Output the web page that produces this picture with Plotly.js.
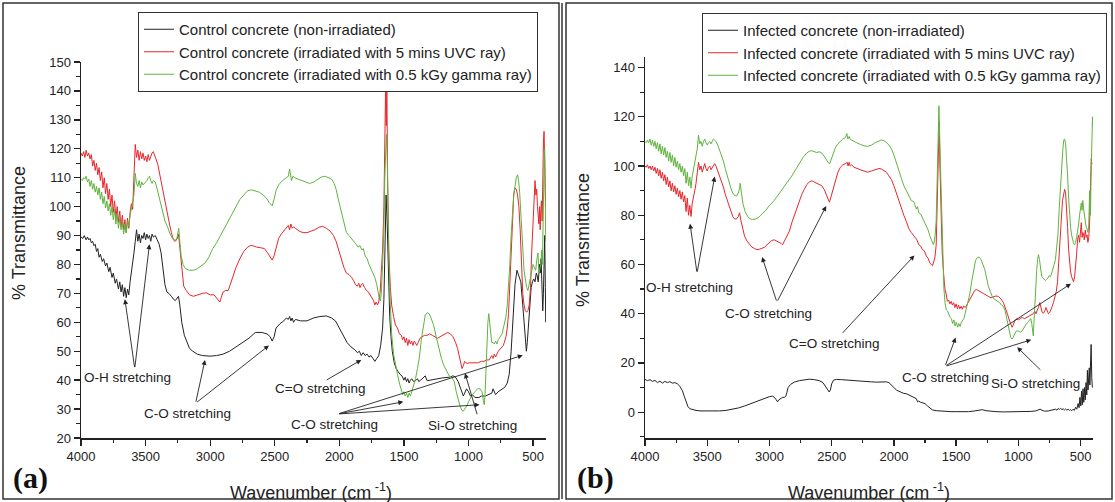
<!DOCTYPE html>
<html>
<head>
<meta charset="utf-8">
<script src="https://cdn.plot.ly/plotly-3.0.1.min.js"></script>
<style>html,body{margin:0;padding:0;background:#fff;}#chart{width:1115px;height:502px;}</style>
</head>
<body>
<div id="chart"></div>
<script>
// ---------- DATA (wavenumber cm-1, % transmittance) ----------
const controlNonIrr = [[4000,89.5],[3985,89],[3975,90],[3960,88.5],[3950,89.5],[3940,88.5],[3930,89],[3920,87.5],[3910,88],[3900,86.5],[3890,87],[3880,84.5],[3870,85.5],[3860,82.5],[3850,83.5],[3835,81],[3825,82],[3810,79.5],[3800,80.5],[3785,77.5],[3775,79],[3760,75.5],[3750,77],[3735,73.5],[3725,75],[3710,71.5],[3700,74],[3690,70.5],[3680,73],[3670,69],[3660,72],[3650,68.5],[3640,71.5],[3630,69.5],[3620,74],[3610,77],[3600,80],[3590,84],[3580,88],[3570,92],[3560,88],[3550,90.5],[3540,87.5],[3530,90],[3520,89],[3510,91],[3500,88.5],[3490,90.5],[3480,89],[3470,90],[3460,88],[3450,90.5],[3440,89.5],[3425,90],[3410,88.5],[3395,87],[3380,84],[3365,79],[3350,73],[3335,70.5],[3320,70],[3300,69],[3285,68],[3270,67.5],[3255,68.5],[3245,69],[3235,66],[3220,60],[3200,55.5],[3180,53],[3160,51],[3135,50],[3100,49],[3060,48.5],[3000,48.3],[2950,48.5],[2900,49],[2850,50],[2800,51.5],[2750,53],[2700,54.5],[2650,56.5],[2600,56.5],[2560,56],[2535,55],[2520,53.5],[2505,55],[2490,58],[2460,59.5],[2430,60.5],[2410,61.5],[2395,61],[2385,62],[2375,60.5],[2365,61.5],[2355,60],[2340,61],[2300,60.5],[2250,60.5],[2200,61.5],[2150,62],[2100,62.2],[2060,61.5],[2030,60.5],[2000,58],[1970,55],[1940,53],[1910,51.5],[1880,50.5],[1860,49.5],[1845,50],[1830,48.5],[1815,49.5],[1800,48.5],[1785,49],[1770,48],[1755,48.5],[1740,47.5],[1725,46.5],[1710,47.5],[1695,48.5],[1680,52],[1665,58],[1655,68],[1645,90],[1638,104],[1630,95],[1620,75],[1610,62],[1600,55],[1590,50],[1575,46],[1560,44],[1545,43],[1530,42],[1515,41.5],[1500,40],[1490,41],[1480,39.5],[1470,40.5],[1460,39],[1450,40],[1440,40.5],[1425,39.5],[1410,39.8],[1395,40.5],[1385,39.5],[1370,40],[1350,41],[1335,41.5],[1320,39.8],[1300,40],[1250,40.5],[1200,40.8],[1150,41],[1120,41.5],[1100,41],[1080,39.5],[1060,37],[1040,34.5],[1030,35.5],[1015,37],[1000,36],[985,34.5],[970,35],[950,34],[920,34],[900,34.5],[870,34.5],[840,35],[820,35.5],[810,37],[800,36],[790,35],[770,36],[740,37],[720,37.5],[700,39],[685,42],[670,50],[655,62],[640,73],[625,78],[610,76],[595,74],[580,66],[570,60],[560,53],[552,50],[545,53],[535,60],[525,68],[515,72],[505,74],[495,75],[485,74],[475,77],[468,76],[460,74],[450,80],[445,77],[438,82],[432,70],[425,64],[420,70],[415,80],[410,90],[405,72],[402,60]];

const controlUVC = [[4000,118.5],[3990,117.5],[3980,119],[3970,117],[3960,119.5],[3950,117.5],[3940,118.5],[3930,116.5],[3920,118],[3910,114],[3900,116],[3890,112.5],[3880,115],[3870,111],[3860,113.5],[3850,109],[3840,112],[3830,106.5],[3820,110],[3810,104.5],[3800,108],[3790,102.5],[3780,106],[3770,100],[3760,104],[3750,98],[3740,102],[3730,96],[3720,100],[3710,94.5],[3700,98.5],[3690,93],[3680,97],[3670,92],[3660,95.5],[3650,91],[3640,96],[3630,92.5],[3620,98],[3610,101],[3600,99],[3590,108],[3580,121.5],[3570,117],[3560,119.5],[3550,116],[3540,119],[3530,116.5],[3520,118.5],[3510,116],[3500,117.5],[3490,115.5],[3480,118],[3470,116],[3460,117.5],[3450,118.5],[3440,119],[3430,118],[3420,116.5],[3405,114.5],[3390,111],[3375,107],[3360,104],[3345,100],[3330,97],[3315,94],[3300,91],[3285,88.5],[3270,88],[3255,89],[3245,90.5],[3235,86],[3220,77],[3205,72.5],[3185,71],[3160,69.5],[3130,69],[3100,69.5],[3060,70],[3030,70.2],[3000,69.5],[2970,69.5],[2950,68.5],[2935,67.5],[2925,67],[2915,68.5],[2900,70.5],[2880,71],[2860,71],[2845,73],[2825,76],[2800,79],[2770,82],[2740,84.5],[2710,86],[2690,86.5],[2670,86.5],[2640,86],[2610,85.8],[2580,85.5],[2555,84],[2535,82.5],[2520,81.5],[2505,83],[2490,86],[2470,89],[2450,90.5],[2430,91.5],[2410,92.5],[2395,93.5],[2385,92],[2375,94],[2365,92.5],[2355,93],[2340,92.5],[2310,91.5],[2280,91],[2250,91],[2220,91.5],[2190,92],[2160,92.8],[2130,93.2],[2100,92.5],[2070,91.5],[2045,90],[2025,88],[2005,85],[1985,82],[1965,79],[1945,77],[1925,76.5],[1905,75.5],[1890,74.5],[1875,73],[1860,72.5],[1850,73.5],[1840,72],[1830,73],[1820,73.5],[1805,72],[1790,71],[1775,70.5],[1760,69.5],[1745,68.5],[1735,67.5],[1725,66],[1715,67],[1705,66],[1695,67],[1685,70],[1675,76],[1665,85],[1655,100],[1648,125],[1642,141],[1637,128],[1632,140],[1626,110],[1618,85],[1605,72],[1595,66],[1580,62],[1565,59],[1550,58],[1535,56],[1520,55.5],[1510,54],[1500,55],[1490,53],[1480,54.5],[1470,52],[1460,54],[1450,52.5],[1440,53.5],[1430,52],[1420,53.5],[1410,52.5],[1400,52],[1390,53],[1375,54.5],[1360,55],[1340,55.5],[1320,55.5],[1300,56],[1280,55.5],[1260,55],[1240,54.5],[1220,55],[1200,55.5],[1180,56],[1160,56.5],[1140,56],[1120,55],[1100,53],[1085,51],[1070,48],[1060,45.5],[1050,44],[1040,45],[1030,46.5],[1020,46],[1010,45.8],[990,46],[960,46],[930,46],[900,46.5],[880,46.5],[860,47],[840,47],[820,48.5],[810,47.5],[800,49],[790,48],[770,50],[750,51],[730,52],[710,55],[700,58],[690,63],[680,72],[670,82],[660,95],[650,104],[640,106.5],[630,106],[620,104],[610,100],[600,92],[590,80],[580,70],[570,66],[560,64],[550,63.5],[540,64],[530,66],[520,72],[510,85],[500,95],[490,103],[485,109],[478,104],[472,106],[466,100],[460,97.5],[455,94],[450,100],[445,92],[440,99],[435,102],[430,95],[425,112],[420,122],[415,126],[412,115],[408,120],[405,105],[402,100]];

const controlGamma = [[4000,109.5],[3990,109],[3980,110],[3970,109.5],[3960,110.5],[3950,108.5],[3940,109.5],[3930,107],[3920,109],[3910,106],[3900,108],[3890,105],[3880,107],[3870,104],[3860,106.5],[3850,102.5],[3840,105],[3830,101],[3820,103.5],[3810,99.5],[3800,102],[3790,98.5],[3780,101],[3770,97],[3760,100],[3750,95.5],[3740,99],[3730,94],[3720,97.5],[3710,92.5],[3700,96],[3690,92],[3680,94.5],[3670,90.5],[3660,94],[3650,91],[3640,95],[3630,93],[3620,97],[3610,99],[3600,101],[3590,104],[3580,111.5],[3570,108],[3560,107],[3550,109],[3540,106.5],[3530,108.5],[3520,107.5],[3510,108],[3500,108.5],[3490,109],[3480,110],[3470,110.5],[3460,109],[3450,108],[3440,109],[3425,108.5],[3410,106],[3395,103],[3380,100],[3365,97.5],[3350,95],[3330,93],[3310,90.5],[3290,89],[3275,88.5],[3260,88.5],[3250,91],[3243,92.5],[3235,88],[3225,83],[3210,80],[3190,78.5],[3160,78],[3130,78],[3100,78.5],[3070,79.5],[3040,80.5],[3010,82.5],[2980,85.5],[2950,87.5],[2920,90],[2890,93],[2860,95.5],[2830,98],[2800,100.5],[2770,102.5],[2740,104],[2710,105.5],[2680,105.8],[2650,105.5],[2620,105],[2590,104],[2565,103],[2545,101.5],[2530,100.5],[2520,100.3],[2505,102.5],[2490,105.5],[2470,107.5],[2440,109],[2410,110],[2395,110.5],[2385,113],[2378,111.5],[2370,109],[2360,110.5],[2345,110],[2320,109.5],[2290,109],[2260,108.5],[2230,108],[2200,108.5],[2170,109.5],[2140,110.2],[2110,110.5],[2080,110],[2060,109.5],[2040,108],[2025,106],[2005,102],[1985,98],[1965,94],[1945,91],[1925,90],[1905,89],[1885,88],[1870,87],[1855,86],[1840,86.5],[1825,85],[1815,85.5],[1800,83],[1785,82],[1770,80],[1755,78.5],[1740,77],[1725,75.5],[1710,73],[1700,70.5],[1690,68],[1682,67.5],[1675,70],[1665,80],[1655,92],[1648,110],[1642,119],[1636,125],[1630,118],[1625,100],[1615,80],[1605,66],[1595,56],[1580,49],[1565,45],[1550,42],[1535,39],[1520,36.5],[1510,35],[1500,36],[1490,34.5],[1480,35.5],[1470,34],[1460,35.5],[1450,34.5],[1440,36],[1425,38],[1410,40.5],[1395,44],[1380,48],[1365,54],[1350,59],[1335,62.5],[1320,63.3],[1305,63],[1290,61.5],[1270,59],[1250,55],[1230,51],[1210,47.5],[1190,45],[1170,43],[1150,41.5],[1130,41],[1110,39.5],[1095,36],[1080,33],[1065,31],[1050,29.5],[1040,29.3],[1030,30],[1015,31],[1000,32.5],[985,34],[970,35],[950,36],[930,37],[910,37],[895,36],[885,33],[878,31.5],[872,35],[865,44],[858,54],[850,60],[843,63],[836,60],[828,55],[820,53],[810,53],[800,52.5],[790,53.5],[780,52.5],[770,54],[755,55],[740,56],[725,59],[710,62],[700,66],[690,72],[680,80],[670,90],[660,98],[650,104],[640,107],[630,110],[620,111],[612,109],[604,105],[596,98],[588,90],[580,82],[570,78],[560,75],[550,72],[540,71],[530,73],[520,75],[510,78],[500,80],[490,79],[480,78],[470,82],[462,84],[455,77],[448,79],[440,80],[433,85],[428,80],[422,95],[418,112],[414,118],[410,120],[406,110],[402,88]];

const infectedNonIrr = [[4000,13.3],[3980,12.8],[3960,13.2],[3940,12.5],[3920,12.9],[3900,12],[3880,12.6],[3860,11.8],[3840,12.5],[3820,12],[3800,12.4],[3780,11.8],[3760,12],[3740,11.5],[3720,10.5],[3700,8.8],[3685,6.5],[3670,4],[3655,2.3],[3640,1.4],[3620,1],[3590,0.7],[3550,0.5],[3500,0.4],[3450,0.4],[3400,0.5],[3350,0.7],[3300,1.1],[3250,1.7],[3200,2.5],[3150,3.5],[3100,4.5],[3050,5.5],[3000,6.3],[2975,6.5],[2960,6],[2945,5],[2935,4.2],[2925,5],[2910,5.5],[2895,6],[2880,6],[2868,6.5],[2860,8],[2850,10],[2830,11.3],[2800,12.2],[2760,12.8],[2720,13.2],[2680,13.4],[2640,13.2],[2600,12.8],[2570,12],[2550,10.5],[2535,9],[2520,8.2],[2510,9],[2500,11.5],[2485,13],[2460,13.3],[2420,13.2],[2380,13],[2340,12.8],[2300,12.7],[2260,12.5],[2220,12.4],[2180,12.3],[2140,12.2],[2100,12.3],[2060,12.3],[2040,12],[2020,11],[2000,10],[1980,9],[1960,8.5],[1940,8],[1920,7.6],[1900,7.5],[1880,7],[1860,6.5],[1840,6],[1820,5.5],[1810,4.2],[1800,4.5],[1785,4],[1770,3.8],[1750,3.5],[1730,2.5],[1710,1.5],[1690,0.9],[1660,0.6],[1620,0.4],[1580,0.3],[1540,0.2],[1500,0.2],[1450,0.1],[1400,0.2],[1350,0.5],[1320,0.9],[1290,1],[1260,0.6],[1220,0.3],[1180,0.2],[1120,0.1],[1060,0.1],[1000,0.1],[950,0.2],[900,0.3],[860,0.5],[840,0.9],[825,1.2],[810,0.8],[790,0.4],[760,0.5],[740,0.7],[720,0.9],[700,1.2],[690,0.8],[680,1.5],[670,1.1],[660,1.6],[650,1.0],[640,1.4],[630,0.9],[620,1.3],[610,0.8],[600,1.2],[590,0.7],[580,1.0],[570,0.6],[560,1.2],[550,0.7],[540,2],[530,1.2],[520,3.5],[512,1.8],[505,6],[498,2.5],[492,8.5],[486,3],[480,9.5],[474,4],[468,10],[462,5],[456,12],[450,7],[445,17],[440,9],[435,14],[430,18],[425,11],[420,20],[415,27.5],[410,14],[405,10]];

const infectedUVC = [[4000,100],[3990,99.5],[3980,100.5],[3970,99],[3960,100],[3950,98.5],[3940,100],[3930,98],[3920,99.5],[3910,97],[3900,99],[3890,96],[3880,98.5],[3870,95],[3860,97.5],[3850,94],[3840,96.5],[3830,92.5],[3820,95.5],[3810,91.5],[3800,94],[3790,90],[3780,93],[3770,89.5],[3760,92],[3750,88.5],[3740,91],[3730,87.5],[3720,90],[3710,86.5],[3700,89.5],[3690,85.5],[3680,88],[3670,81.5],[3660,87],[3650,80],[3640,84],[3630,79.5],[3620,85],[3610,87],[3600,90],[3590,93],[3580,97],[3570,101.5],[3560,98.5],[3550,100],[3540,97.5],[3530,99.5],[3520,101],[3510,99],[3500,98],[3490,99.5],[3480,100],[3470,98.5],[3460,99.5],[3450,100.5],[3440,101],[3430,100],[3415,98],[3400,96],[3385,94],[3370,91.5],[3355,88.5],[3340,86],[3325,83.5],[3310,81],[3295,79.5],[3280,78.5],[3265,78.5],[3250,79.5],[3240,81],[3230,78],[3215,74],[3200,71.5],[3180,69.5],[3160,68],[3140,67],[3120,66.5],[3100,66],[3080,66.2],[3060,66.5],[3040,67],[3020,68],[3000,69],[2980,69.8],[2960,70],[2940,69.5],[2920,69],[2905,68.5],[2895,68],[2885,69],[2870,71],[2855,72],[2840,73.5],[2820,77],[2800,80],[2780,83],[2760,86],[2740,88.5],[2720,90.5],[2700,92.5],[2680,93.5],[2660,94],[2640,93.5],[2620,93],[2600,92.8],[2580,92],[2560,90.5],[2545,88.5],[2530,86.5],[2518,85.3],[2505,87.5],[2490,90.5],[2470,94.5],[2450,97.5],[2430,99.5],[2410,100.5],[2390,101],[2375,101.5],[2368,100],[2360,101.5],[2350,100],[2340,100.5],[2320,99.5],[2300,99],[2270,98.5],[2240,98],[2210,97.5],[2180,98],[2150,98.5],[2120,99],[2100,98.8],[2080,98],[2060,97.5],[2040,96],[2020,94.5],[2000,92],[1980,89],[1960,86],[1940,82.5],[1920,80],[1900,77.5],[1880,74.5],[1860,73],[1845,72],[1830,71.5],[1815,70],[1800,68],[1785,67.5],[1770,66],[1755,65.5],[1740,63.5],[1725,62.5],[1710,60.5],[1700,60],[1690,59.5],[1680,61],[1670,63],[1660,68],[1650,85],[1642,108],[1636,118],[1630,100],[1622,80],[1612,65],[1600,56],[1590,50],[1580,48],[1570,45],[1560,45.5],[1550,44],[1540,45],[1530,43.5],[1520,44.5],[1510,42.5],[1500,44],[1490,42],[1480,43.5],[1470,42],[1460,43],[1450,41.8],[1440,43.2],[1430,42.5],[1420,43],[1410,44],[1395,45.5],[1380,47],[1365,48.5],[1350,49.5],[1335,49.8],[1320,49.5],[1300,48.8],[1280,48.2],[1260,47.5],[1240,47],[1220,46.5],[1200,46.8],[1180,47.2],[1160,47],[1140,46],[1120,44.5],[1100,42],[1085,39.5],[1070,37],[1058,35],[1050,34.5],[1040,35.5],[1030,37],[1015,38],[1000,37.5],[985,38],[970,38.5],[950,38],[930,38.5],[910,39],[895,39.5],[880,40],[868,41],[858,40],[848,41.5],[838,42.5],[828,44.5],[818,42],[808,40.5],[798,40.2],[788,41],[778,42.5],[768,41.5],[758,40],[748,40.5],[738,41.5],[728,43],[718,44.5],[705,46.5],[695,49],[685,53],[675,60],[665,68],[655,78],[645,86],[635,90],[628,90.5],[620,89],[612,83],[604,75],[596,66],[588,60],[580,57],[572,55],[564,53.5],[556,53],[548,55],[540,59],[532,64],[524,70],[516,72],[508,69],[500,74],[494,77],[488,71],[482,73],[476,72.5],[470,70],[462,74],[455,71],[448,72],[441,69],[434,71],[428,76],[423,86],[418,98],[414,103],[410,101],[405,101]];

const infectedGamma = [[4000,110],[3990,109.5],[3980,110.5],[3970,109.5],[3960,111],[3950,108.5],[3940,110.5],[3930,108],[3920,110],[3910,107],[3900,109.5],[3890,106],[3880,109],[3870,105],[3860,108],[3850,104.5],[3840,107.5],[3830,103.5],[3820,106],[3810,102],[3800,105.5],[3790,101.5],[3780,104.5],[3770,100],[3760,103.5],[3750,99.5],[3740,102],[3730,98.5],[3720,101],[3710,97.5],[3700,100],[3690,96],[3680,99],[3670,93],[3660,97.5],[3650,92],[3640,95.5],[3630,91],[3620,96],[3610,99],[3600,101],[3590,104],[3580,107],[3570,112.5],[3560,109],[3550,110],[3540,108],[3530,110],[3520,111],[3510,109.5],[3500,108.5],[3490,109.5],[3480,110],[3470,109],[3460,110],[3450,111],[3440,110.5],[3430,110],[3415,108.5],[3400,106.5],[3385,104.5],[3370,102],[3355,99],[3340,96],[3325,93],[3310,91],[3295,89],[3280,88],[3265,87.8],[3250,89],[3240,91],[3235,93],[3225,89],[3212,84.5],[3195,81.5],[3175,79.5],[3155,78.5],[3135,78.3],[3110,78.5],[3090,79],[3070,80],[3050,81],[3030,82],[3000,84],[2970,85.5],[2940,87.5],[2910,89.5],[2880,91.5],[2850,93.5],[2820,96],[2790,98.5],[2760,101],[2730,103.5],[2700,105.3],[2680,106],[2660,106.2],[2640,106],[2620,105.5],[2600,105.8],[2580,105.3],[2560,104],[2540,102.5],[2525,101.2],[2515,101],[2505,102.5],[2490,105],[2470,107.5],[2450,109],[2430,110],[2410,111],[2390,111.5],[2378,113.2],[2370,111],[2360,112],[2350,110.8],[2330,110.2],[2300,109.5],[2270,108.8],[2240,108.2],[2210,108],[2180,108.5],[2150,109.5],[2120,110.3],[2100,110.6],[2080,110.3],[2060,109.6],[2040,108.5],[2020,107],[2000,104.5],[1980,101],[1960,98],[1940,95],[1920,92],[1900,90],[1880,88],[1860,86],[1840,85.5],[1830,84],[1820,82.5],[1810,83.5],[1800,81],[1785,80.5],[1770,79],[1755,77.5],[1740,76],[1725,74],[1710,71.5],[1700,70],[1690,68.5],[1682,68],[1675,69.5],[1668,72],[1660,78],[1652,95],[1645,118],[1638,124.5],[1632,112],[1626,100],[1618,80],[1608,62],[1598,50],[1588,44],[1578,41.5],[1568,41],[1558,39.5],[1548,38.5],[1538,38],[1528,36],[1518,37.5],[1508,35],[1498,36.5],[1488,34.5],[1478,36],[1468,34.8],[1458,36.5],[1448,37.5],[1438,38],[1428,40],[1418,42],[1405,44],[1390,48],[1375,53],[1360,58],[1345,61.5],[1330,62.8],[1315,63],[1300,62],[1285,60],[1270,58],[1255,54.5],[1240,51],[1225,49],[1210,47],[1195,46],[1180,45.5],[1165,45],[1150,44.5],[1135,43.5],[1120,43],[1105,41],[1090,37],[1075,33],[1062,30.5],[1052,29.7],[1040,30.5],[1028,32],[1015,33],[1000,33],[985,32.5],[970,33],[955,34.5],[940,35.5],[925,36.5],[910,37.5],[900,38],[892,36],[885,33],[880,31],[875,36],[868,44],[860,52],[852,58],[845,62],[838,64],[830,62],[820,57],[812,55],[802,54.5],[792,54],[782,53.5],[772,54],[762,54.5],[752,55.5],[742,55],[732,56.5],[722,58],[712,60],[702,62],[692,66],[682,72],[672,82],[662,92],[652,101],[642,107],[635,110.5],[628,111],[620,109],[612,104],[604,96],[596,87],[588,80],[580,75],[572,72],[564,70],[556,68.5],[548,68],[540,69],[532,71],[524,73],[516,76],[508,80],[500,83],[494,85],[488,82],[482,86],[476,83],[470,80],[464,78],[458,76],[452,75],[446,74],[440,73],[434,76],[430,85],[427,90],[424,82],[420,80],[416,95],[412,106],[408,113],[404,120],[401,116]];

const legendA = ['Control concrete (non-irradiated)','Control concrete (irradiated with 5 mins UVC ray)','Control concrete (irradiated with 0.5 kGy gamma ray)'];
const legendB = ['Infected concrete (non-irradiated)','Infected concrete (irradiated with 5 mins UVC ray)','Infected concrete (irradiated with 0.5 kGy gamma ray)'];
const xTickVals = [4000,3500,3000,2500,2000,1500,1000,500];

// ---------- annotation labels: [text, x, y] and arrows [headX, headY, tailX, tailY] ----------
const labelsA = [['O-H stretching',3637,41],['C-O stretching',3176,28.3],['C=O stretching',2148,37.1],['C-O stretching',2037,24.8],['Si-O stretching',967,24.3]];
const arrowsA = [[3660,68,3584,44],[3470,87,3584,44],[3040,47,3113,32],[2545,52,3113,32],[1830,47,2109,39.8],[1505,32.5,2012,28.3],[915,31.5,2012,28.3],[580,48.6,2012,28.3],[1027,42.4,930,27.7]];
const labelsB = [['O-H stretching',3644,50.6],['C-O stretching',3005,40.1],['C=O stretching',2485,27.7],['C-O stretching',1586,14],['Si-O stretching',862,11.6]];
const arrowsB = [[3638,76.6,3582,56.5],[3440,95.7,3582,56.5],[3059,63,2940,44.7],[2544,83.8,2940,44.7],[1835,63.7,2423,31.6],[1504,30.3,1589,18.6],[896,29.4,1589,18.6],[577,52.2,1589,18.6],[1009,26.4,811,16.6]];

// ---------- build ----------
const colors = ['#222222','#e8262b','#5fb43f'];
const FONT = 'Liberation Sans, Arial, sans-serif';
function tr(pairs, name, color, xa, ya, leg){
  return {x: pairs.map(p=>p[0]), y: pairs.map(p=>p[1]), name: name, type:'scatter', mode:'lines',
    line:{color:color, width:1}, xaxis:xa, yaxis:ya, legend:leg, hoverinfo:'skip'};
}
const data = [
  tr(controlNonIrr, legendA[0], colors[0], 'x','y','legend'),
  tr(controlUVC, legendA[1], colors[1], 'x','y','legend'),
  tr(controlGamma, legendA[2], colors[2], 'x','y','legend'),
  tr(infectedNonIrr, legendB[0], colors[0], 'x2','y2','legend2'),
  tr(infectedUVC, legendB[1], colors[1], 'x2','y2','legend2'),
  tr(infectedGamma, legendB[2], colors[2], 'x2','y2','legend2')
];

function xax(dom, anchor){
  return {domain:dom, range:[4000,400], anchor:anchor, tickmode:'array', tickvals:xTickVals,
    showline:true, linecolor:'#222', linewidth:1.5, ticks:'outside', ticklen:6, tickwidth:1.3, tickcolor:'#222',
    minor:{ticks:'outside', ticklen:3.5, tickwidth:1.2, tickcolor:'#222', dtick:250, tick0:0},
    showgrid:false, zeroline:false, tickfont:{family:FONT, size:13, color:'#222'}};
}
function yax(dom, anchor, range, dtick, minorD){
  return {domain:dom, range:range, anchor:anchor, tickmode:'linear', tick0:0, dtick:dtick,
    showline:true, linecolor:'#222', linewidth:1.5, ticks:'outside', ticklen:6, tickwidth:1.3, tickcolor:'#222',
    minor:{ticks:'outside', ticklen:3.5, tickwidth:1.2, tickcolor:'#222', dtick:minorD, tick0:0},
    showgrid:false, zeroline:false, tickfont:{family:FONT, size:13, color:'#222'}};
}

const W = 1115, H = 502;
const px = v => v / W, py = v => 1 - v / H;

const annotations = [];
function addPanel(labels, arrows, xr, yr){
  arrows.forEach(a => annotations.push({x:a[0], y:a[1], ax:a[2], ay:a[3], xref:xr, yref:yr, axref:xr, ayref:yr,
    text:'', showarrow:true, arrowhead:2, arrowsize:1.1, arrowwidth:0.9, arrowcolor:'#222', standoff:0, startstandoff:0}));
  labels.forEach(l => annotations.push({x:l[1], y:l[2], xref:xr, yref:yr, text:l[0], showarrow:false,
    xanchor:'center', yanchor:'middle', font:{family:FONT, size:13.5, color:'#222'}}));
}
addPanel(labelsA, arrowsA, 'x', 'y');
addPanel(labelsB, arrowsB, 'x2', 'y2');

// axis titles and panel tags
const ttlFont = {family:FONT, size:18, color:'#222'};
function paperText(x, y, text, font, angle){
  annotations.push({xref:'paper', yref:'paper', x:px(x), y:py(y), text:text, textangle:angle||0,
    xanchor:'center', yanchor:'middle', showarrow:false, font:font});
}
paperText(19, 233, '% Transmittance', ttlFont, -90);
paperText(583, 240, '% Transmittance', ttlFont, -90);
paperText(311, 491, 'Wavenumber (cm<sup> -1</sup>)', ttlFont);
paperText(869, 491, 'Wavenumber (cm<sup> -1</sup>)', ttlFont);
const tagFont = {family:'Liberation Serif, Times New Roman, serif', size:30, color:'#111'};
paperText(30, 478, '<b>(a)</b>', tagFont);
paperText(595, 478, '<b>(b)</b>', tagFont);

const shapes = [
  {type:'rect', xref:'paper', yref:'paper', x0:px(3), x1:px(559), y0:py(499), y1:py(3), line:{color:'#333', width:1.5}},
  {type:'rect', xref:'paper', yref:'paper', x0:px(566), x1:px(1112), y0:py(499), y1:py(3), line:{color:'#333', width:1.5}},
  {type:'line', xref:'paper', yref:'paper', x0:px(562), x1:px(562), y0:py(499), y1:py(3), line:{color:'#333', width:1.5}}
];

const legFont = {family:FONT, size:15, color:'#222'};
const layout = {
  width:W, height:H, margin:{l:0, r:0, t:0, b:0}, paper_bgcolor:'#fff', plot_bgcolor:'#fff',
  showlegend:true,
  xaxis: xax([px(81), px(546)], 'y'),
  yaxis: yax([1-438/H, 1-62/H], 'x', [20,150], 10, 5),
  xaxis2: xax([px(645), px(1093)], 'y2'),
  yaxis2: yax([1-438/H, 1-57/H], 'x2', [-10.5,144.3], 20, 10),
  legend: {x:px(138), y:py(12), xanchor:'left', yanchor:'top', bgcolor:'#fff', bordercolor:'#333', borderwidth:1, font:legFont, traceorder:'normal'},
  legend2: {x:px(702), y:py(13), xanchor:'left', yanchor:'top', bgcolor:'#fff', bordercolor:'#333', borderwidth:1, font:legFont, traceorder:'normal'},
  annotations: annotations,
  shapes: shapes
};

Plotly.newPlot('chart', data, layout, {staticPlot:true, displayModeBar:false});
</script>
</body>
</html>
